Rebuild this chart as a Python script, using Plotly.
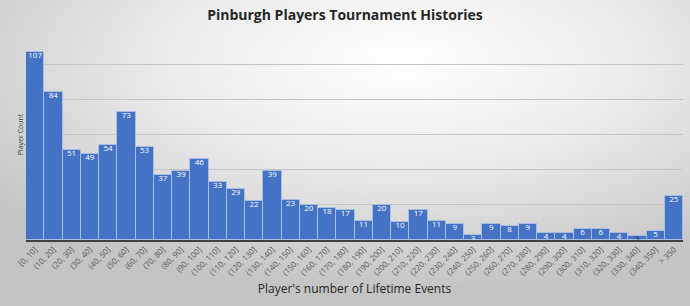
import base64
import plotly.graph_objects as go

categories = ["[0, 10]", "(10, 20]", "(20, 30]", "(30, 40]", "(40, 50]", "(50, 60]", "(60, 70]",
              "(70, 80]", "(80, 90]", "(90, 100]", "(100, 110]", "(110, 120]", "(120, 130]",
              "(130, 140]", "(140, 150]", "(150, 160]", "(160, 170]", "(170, 180]", "(180, 190]",
              "(190, 200]", "(200, 210]", "(210, 220]", "(220, 230]", "(230, 240]", "(240, 250]",
              "(250, 260]", "(260, 270]", "(270, 280]", "(280, 290]", "(290, 300]", "(300, 310]",
              "(310, 320]", "(320, 330]", "(330, 340]", "(340, 350]", "> 350"]
counts = [107, 84, 51, 49, 54, 73, 53, 37, 39, 46, 33, 29, 22, 39, 23, 20, 18, 17, 11, 20,
          10, 17, 11, 9, 3, 9, 8, 9, 4, 4, 6, 6, 4, 2, 5, 25]

W, H = 690, 306
L, R, T, B = 26, 7, 29, 66

svg = f'''<svg xmlns="http://www.w3.org/2000/svg" width="{W}" height="{H}" viewBox="0 0 {W} {H}">
<defs><radialGradient id="g" cx="0.58" cy="0.2" r="0.75" gradientUnits="objectBoundingBox">
<stop offset="0" stop-color="#ffffff"/><stop offset="0.45" stop-color="#ececec"/><stop offset="1" stop-color="#c4c4c4"/>
</radialGradient></defs><rect width="{W}" height="{H}" fill="url(#g)"/></svg>'''
src = "data:image/svg+xml;base64," + base64.b64encode(svg.encode()).decode()

pw, ph = W - L - R, H - T - B

text_colors = ["white" if v > 2 else "#262626" for v in counts]

fig = go.Figure()
fig.add_trace(go.Bar(
    x=categories, y=counts,
    marker=dict(color="#4472C4", line=dict(color="#a9bde3", width=1)),
    hoverinfo="x+y",
))
fig.add_trace(go.Scatter(
    x=categories, y=counts, mode="text", text=[str(v) for v in counts],
    textposition="bottom center",
    textfont=dict(color=text_colors, size=8, family="Open Sans"),
    cliponaxis=False, hoverinfo="skip",
))

fig.update_layout(
    width=W, height=H,
    margin=dict(l=L, r=R, t=T, b=B),
    paper_bgcolor="#e8e8e8", plot_bgcolor="rgba(0,0,0,0)",
    bargap=0,
    title=dict(text="<b>Pinburgh Players Tournament Histories</b>", x=0.5, xanchor="center",
               y=1 - 15 / H, yanchor="middle",
               font=dict(size=14, color="#262626", family="Open Sans")),
    images=[dict(source=src, xref="paper", yref="paper", x=-L / pw, y=1 + T / ph,
                 sizex=W / pw, sizey=H / ph, xanchor="left", yanchor="top",
                 sizing="stretch", layer="below")],
    showlegend=False,
)
fig.update_xaxes(range=[-0.5, len(categories) - 0.5],
                 tickangle=-45, tickfont=dict(size=8, color="#595959", family="Open Sans"),
                 showline=True, linecolor="#404040", linewidth=1.5, ticks="",
                 title=dict(text="Player's number of Lifetime Events", standoff=8,
                            font=dict(size=12, color="#262626", family="Open Sans")))
fig.update_yaxes(range=[0, 120], dtick=20, showticklabels=False, gridcolor="#c4c4c4", gridwidth=1,
                 zeroline=False,
                 title=dict(text="Player Count", standoff=0,
                            font=dict(size=7, color="#404040", family="Open Sans")))
fig.write_html("out.html")
